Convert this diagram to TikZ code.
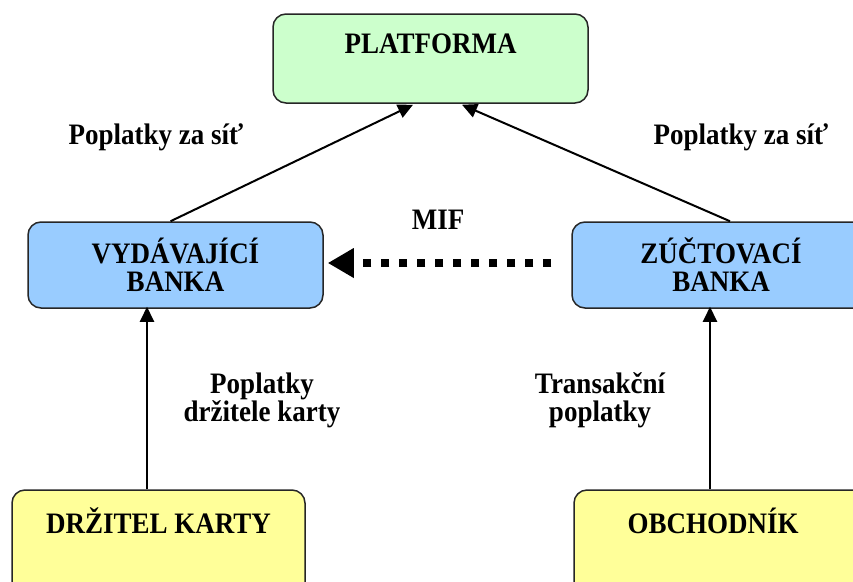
\documentclass[tikz,border=0pt]{standalone}
\usepackage{graphicx}
\usepackage{fontspec}
\setmainfont{Liberation Serif}
\usetikzlibrary{arrows.meta}
\definecolor{plgreen}{HTML}{CCFFCC}
\definecolor{blbox}{HTML}{99CCFF}
\definecolor{ylbox}{HTML}{FFFF99}
\newcommand\vst[1]{\scalebox{1}[1.1]{#1}}
\tikzset{
  box/.style={draw=black!85, line width=1.5pt, rounded corners=13pt, inner sep=0pt},
  boxtxt/.style={font=\bfseries\fontsize{27}{28}\selectfont, align=center, inner sep=0pt},
  lbl/.style={font=\bfseries\fontsize{27}{28}\selectfont, align=center, inner sep=0pt},
  arr/.style={line width=2pt, -{Triangle[length=15pt,width=14pt]}},
  dasharr/.style={line width=8pt, dash pattern=on 8pt off 10pt, -{Triangle[length=26pt,width=28pt]}}
}
\begin{document}
\begin{tikzpicture}[x=1pt,y=-1pt]
\useasboundingbox (0,0) rectangle (853,581);
% boxes
\node[box, fill=plgreen, minimum width=315pt, minimum height=89pt] (plat) at (430.5,58.5) {};
\node[boxtxt] (platt) at (430.5,44) {\vst{PLATFORMA}};
\node[box, fill=blbox, minimum width=295pt, minimum height=86pt, boxtxt] (vyd) at (175.5,265) {\vst{VYDÁVAJÍCÍ}\\\vst{BANKA}};
\node[box, fill=blbox, minimum width=298pt, minimum height=86pt, boxtxt] (zcb) at (721,265) {\vst{ZÚČTOVACÍ}\\\vst{BANKA}};
\node[box, fill=ylbox, minimum width=293pt, minimum height=112pt] (drz) at (158.5,546) {};
\node[boxtxt] (drzt) at (158.5,521) {\vst{DRŽITEL KARTY}};
\node[box, fill=ylbox, minimum width=296pt, minimum height=112pt] (obch) at (722,546) {};
\node[boxtxt] (obcht) at (713,521) {\vst{OBCHODNÍK}};
% labels
\node[lbl] (l1) at (156,137) {\vst{Poplatky za síť}};
\node[lbl] (l2) at (741,137) {\vst{Poplatky za síť}};
\node[lbl] (mif) at (438,220) {\vst{MIF}};
\node[lbl] (l3) at (262,400) {\vst{Poplatky}\\\vst{držitele karty}};
\node[lbl] (l4) at (600,400) {\vst{Transakční}\\\vst{poplatky}};
% connectors
\draw[arr] ([xshift=-5pt]vyd.north) -- ([xshift=-17.5pt,yshift=-1pt]plat.south);
\draw[arr] ([xshift=9pt]zcb.north) -- ([xshift=31.5pt,yshift=-1pt]plat.south);
\draw[arr] ([xshift=-11.5pt]drz.north) -- ([xshift=-28.5pt,yshift=2pt]vyd.south);
\draw[arr] ([xshift=-12pt]obch.north) -- ([xshift=-11pt,yshift=2pt]zcb.south);
\draw[dasharr] ([xshift=-20pt,yshift=2pt]zcb.west) -- ([xshift=4pt,yshift=2pt]vyd.east);
\end{tikzpicture}
\end{document}
